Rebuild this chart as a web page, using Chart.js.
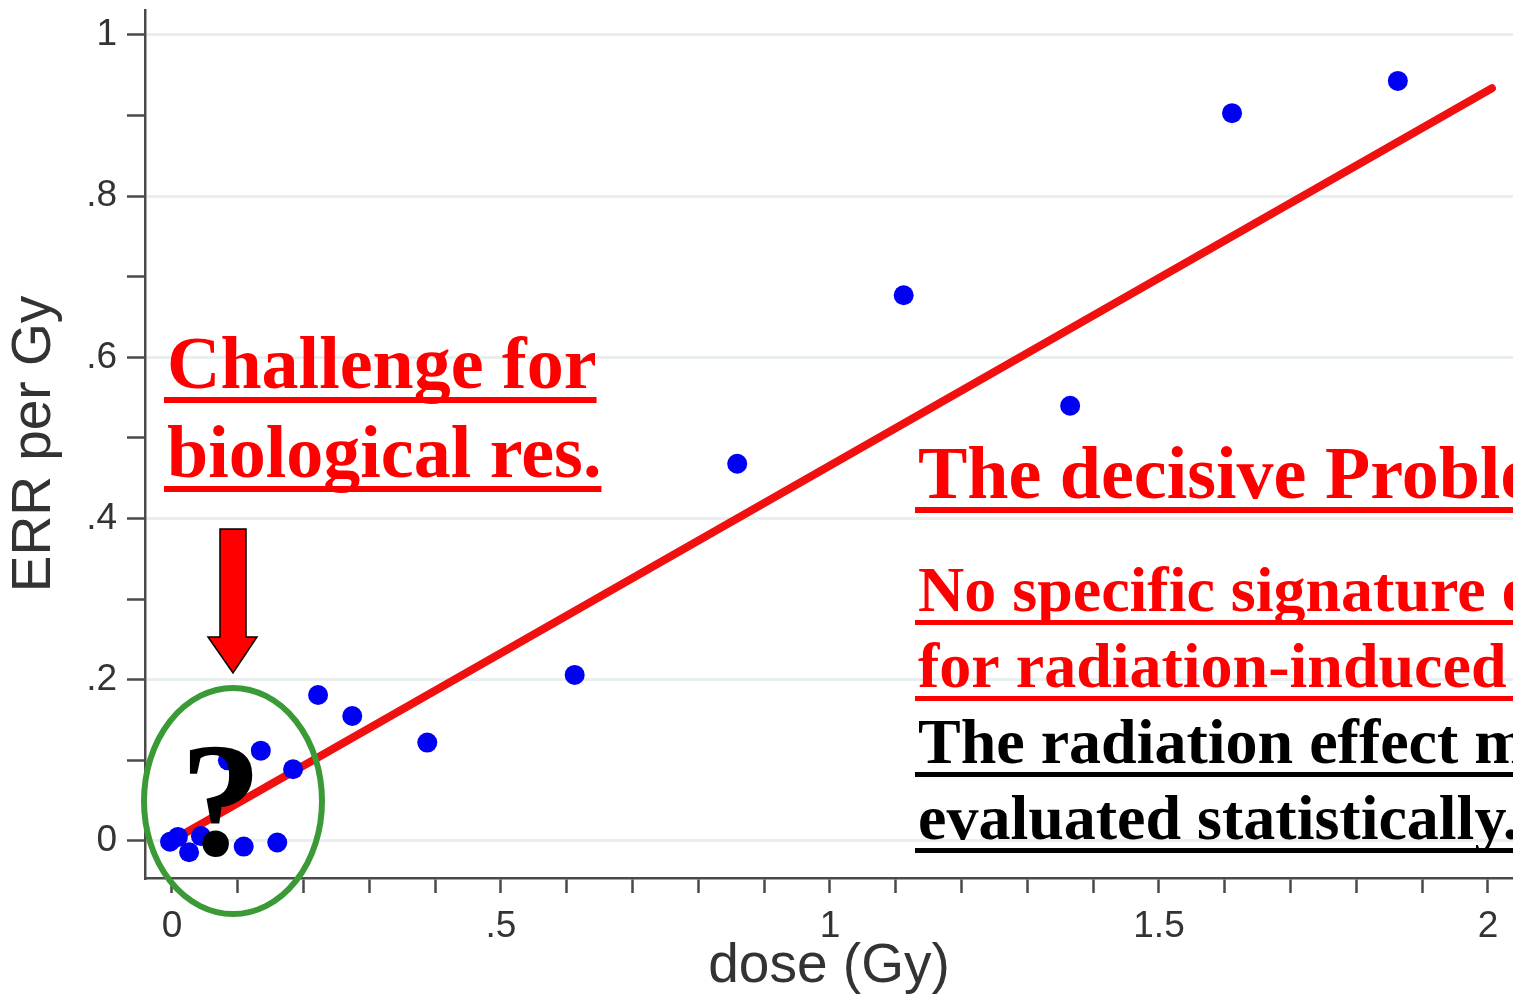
<!DOCTYPE html>
<html>
<head>
<meta charset="utf-8">
<title>ERR per Gy vs dose</title>
<script src="https://cdn.jsdelivr.net/npm/chart.js@4.4.1/dist/chart.umd.min.js"></script>
<style>
  html, body { margin: 0; padding: 0; background: #fff; }
  #wrap { width: 1513px; height: 1000px; position: relative; }
</style>
</head>
<body>
<div id="wrap"><canvas id="errChart"></canvas></div>
<script>
const doseValues = [-0.003, 0.009, 0.026, 0.044, 0.085, 0.109, 0.135, 0.160, 0.184,
  0.222, 0.274, 0.388, 0.612, 0.859, 1.112, 1.365, 1.611, 1.863];
const errValues = [-0.001, 0.005, -0.014, 0.006, 0.100, -0.007, 0.112, -0.002, 0.089,
  0.181, 0.155, 0.122, 0.206, 0.468, 0.677, 0.540, 0.903, 0.943];

// Linear fit line, end points
const fitDose = [0.023, 2.006];
const fitErr = [0.011, 0.934];

// Axis ranges and labelled ticks
const xRange = [-0.041, 2.038];
const yRange = [-0.046, 1.031];
const xTickLabels = { 0: '0', 5: '.5', 10: '1', 15: '1.5', 20: '2' };
const yTickLabels = { 0: '0', 2: '.2', 4: '.4', 6: '.6', 8: '.8', 10: '1' };

// Overlay texts
const leftNote = ['Challenge for', 'biological res.'];
const rightTitle = 'The decisive Problem:';
const rightRed = ['No specific signature exists', 'for radiation-induced cancer'];
const rightBlack = ['The radiation effect must be', 'evaluated statistically.'];

const axisColor = '#4a4a4a';
const labelColor = '#333';
const serif = '"Liberation Serif", "Times New Roman", serif';
const sans = '"Liberation Sans", Arial, sans-serif';

function underlinedText(ctx, text, x, y, size, color) {
  ctx.font = 'bold ' + size + 'px ' + serif;
  ctx.fillStyle = color;
  ctx.textAlign = 'left';
  ctx.textBaseline = 'alphabetic';
  ctx.fillText(text, x, y);
  const w = ctx.measureText(text).width;
  ctx.fillRect(x - 3, y + 9, w + 3, size > 70 ? 6 : 5);
}

const overlayPlugin = {
  id: 'overlay',
  afterDraw(chart) {
    const ctx = chart.ctx;
    ctx.save();

    // left note
    underlinedText(ctx, leftNote[0], 167, 388, 74, '#ff0000');
    underlinedText(ctx, leftNote[1], 167, 477, 74, '#ff0000');

    // arrow pointing down
    ctx.beginPath();
    ctx.moveTo(220, 529);
    ctx.lineTo(246, 529);
    ctx.lineTo(246, 637);
    ctx.lineTo(257, 637);
    ctx.lineTo(233, 673);
    ctx.lineTo(208, 637);
    ctx.lineTo(220, 637);
    ctx.closePath();
    ctx.fillStyle = '#ff0000';
    ctx.fill();
    ctx.lineWidth = 1.5;
    ctx.strokeStyle = '#000';
    ctx.stroke();

    // question mark
    ctx.font = 'bold 164px ' + serif;
    ctx.fillStyle = '#000';
    ctx.textAlign = 'center';
    ctx.textBaseline = 'alphabetic';
    ctx.fillText('?', 221, 855);

    // green ellipse around low-dose region
    ctx.beginPath();
    ctx.ellipse(233, 801, 89, 113, 0, 0, Math.PI * 2);
    ctx.lineWidth = 6;
    ctx.strokeStyle = '#3a9a35';
    ctx.stroke();

    // right text block
    underlinedText(ctx, rightTitle, 918, 498, 74, '#ff0000');
    underlinedText(ctx, rightRed[0], 918, 611, 64, '#ff0000');
    underlinedText(ctx, rightRed[1], 918, 687, 64, '#ff0000');
    underlinedText(ctx, rightBlack[0], 918, 763, 64, '#000');
    underlinedText(ctx, rightBlack[1], 918, 839, 64, '#000');

    ctx.restore();
  }
};

function tickKey(value) {
  return Math.round(value * 10);
}

// keep the plot area where the figure has it
function fixX(scale) {
  scale.height = 122;
  scale.paddingLeft = 0;
  scale.paddingRight = 0;
}
function fixY(scale) {
  scale.width = 145;
  scale.paddingTop = 0;
  scale.paddingBottom = 0;
}

const ctx = document.getElementById('errChart').getContext('2d');
new Chart(ctx, {
  type: 'scatter',
  data: {
    datasets: [
      {
        label: 'ERR per Gy',
        data: doseValues.map((d, i) => ({ x: d, y: errValues[i] })),
        backgroundColor: '#0000f5',
        borderWidth: 0,
        pointRadius: 10,
        order: 0
      },
      {
        type: 'line',
        label: 'fit',
        data: fitDose.map((d, i) => ({ x: d, y: fitErr[i] })),
        borderColor: '#f01010',
        borderWidth: 8,
        borderCapStyle: 'round',
        pointRadius: 0,
        fill: false,
        order: 1
      }
    ]
  },
  options: {
    responsive: true,
    maintainAspectRatio: false,
    animation: false,
    layout: { autoPadding: false, padding: { top: 10, right: 0, bottom: 0, left: 0 } },
    plugins: {
      legend: { display: false },
      tooltip: { enabled: false }
    },
    scales: {
      x: {
        type: 'linear',
        min: xRange[0],
        max: xRange[1],
        afterFit: fixX,
        border: { color: axisColor, width: 2.5 },
        grid: {
          drawOnChartArea: false,
          drawTicks: true,
          tickLength: 15,
          tickColor: axisColor,
          tickWidth: 2.5
        },
        ticks: {
          stepSize: 0.1,
          maxTicksLimit: 100,
          includeBounds: false,
          autoSkip: false,
          maxRotation: 0,
          padding: 12,
          color: labelColor,
          font: { family: sans, size: 37 },
          callback: (value) => xTickLabels[tickKey(value)] || ''
        },
        title: {
          display: true,
          text: 'dose (Gy)',
          color: labelColor,
          font: { family: sans, size: 55 },
          padding: { top: 0, bottom: 0 }
        }
      },
      y: {
        type: 'linear',
        min: yRange[0],
        max: yRange[1],
        afterFit: fixY,
        border: { color: axisColor, width: 2.5 },
        grid: {
          color: (c) => (c.tick && yTickLabels[tickKey(c.tick.value)] !== undefined) ? '#e9efef' : 'rgba(0,0,0,0)',
          lineWidth: 3,
          drawTicks: true,
          tickLength: 18,
          tickColor: axisColor,
          tickWidth: 2.5
        },
        ticks: {
          stepSize: 0.1,
          maxTicksLimit: 100,
          includeBounds: false,
          autoSkip: false,
          padding: 10,
          color: labelColor,
          font: { family: sans, size: 37 },
          callback: (value) => yTickLabels[tickKey(value)] || ''
        },
        title: {
          display: true,
          text: 'ERR per Gy',
          color: labelColor,
          font: { family: sans, size: 55 },
          padding: { top: 2, bottom: 0 }
        }
      }
    }
  },
  plugins: [overlayPlugin]
});
</script>
</body>
</html>
